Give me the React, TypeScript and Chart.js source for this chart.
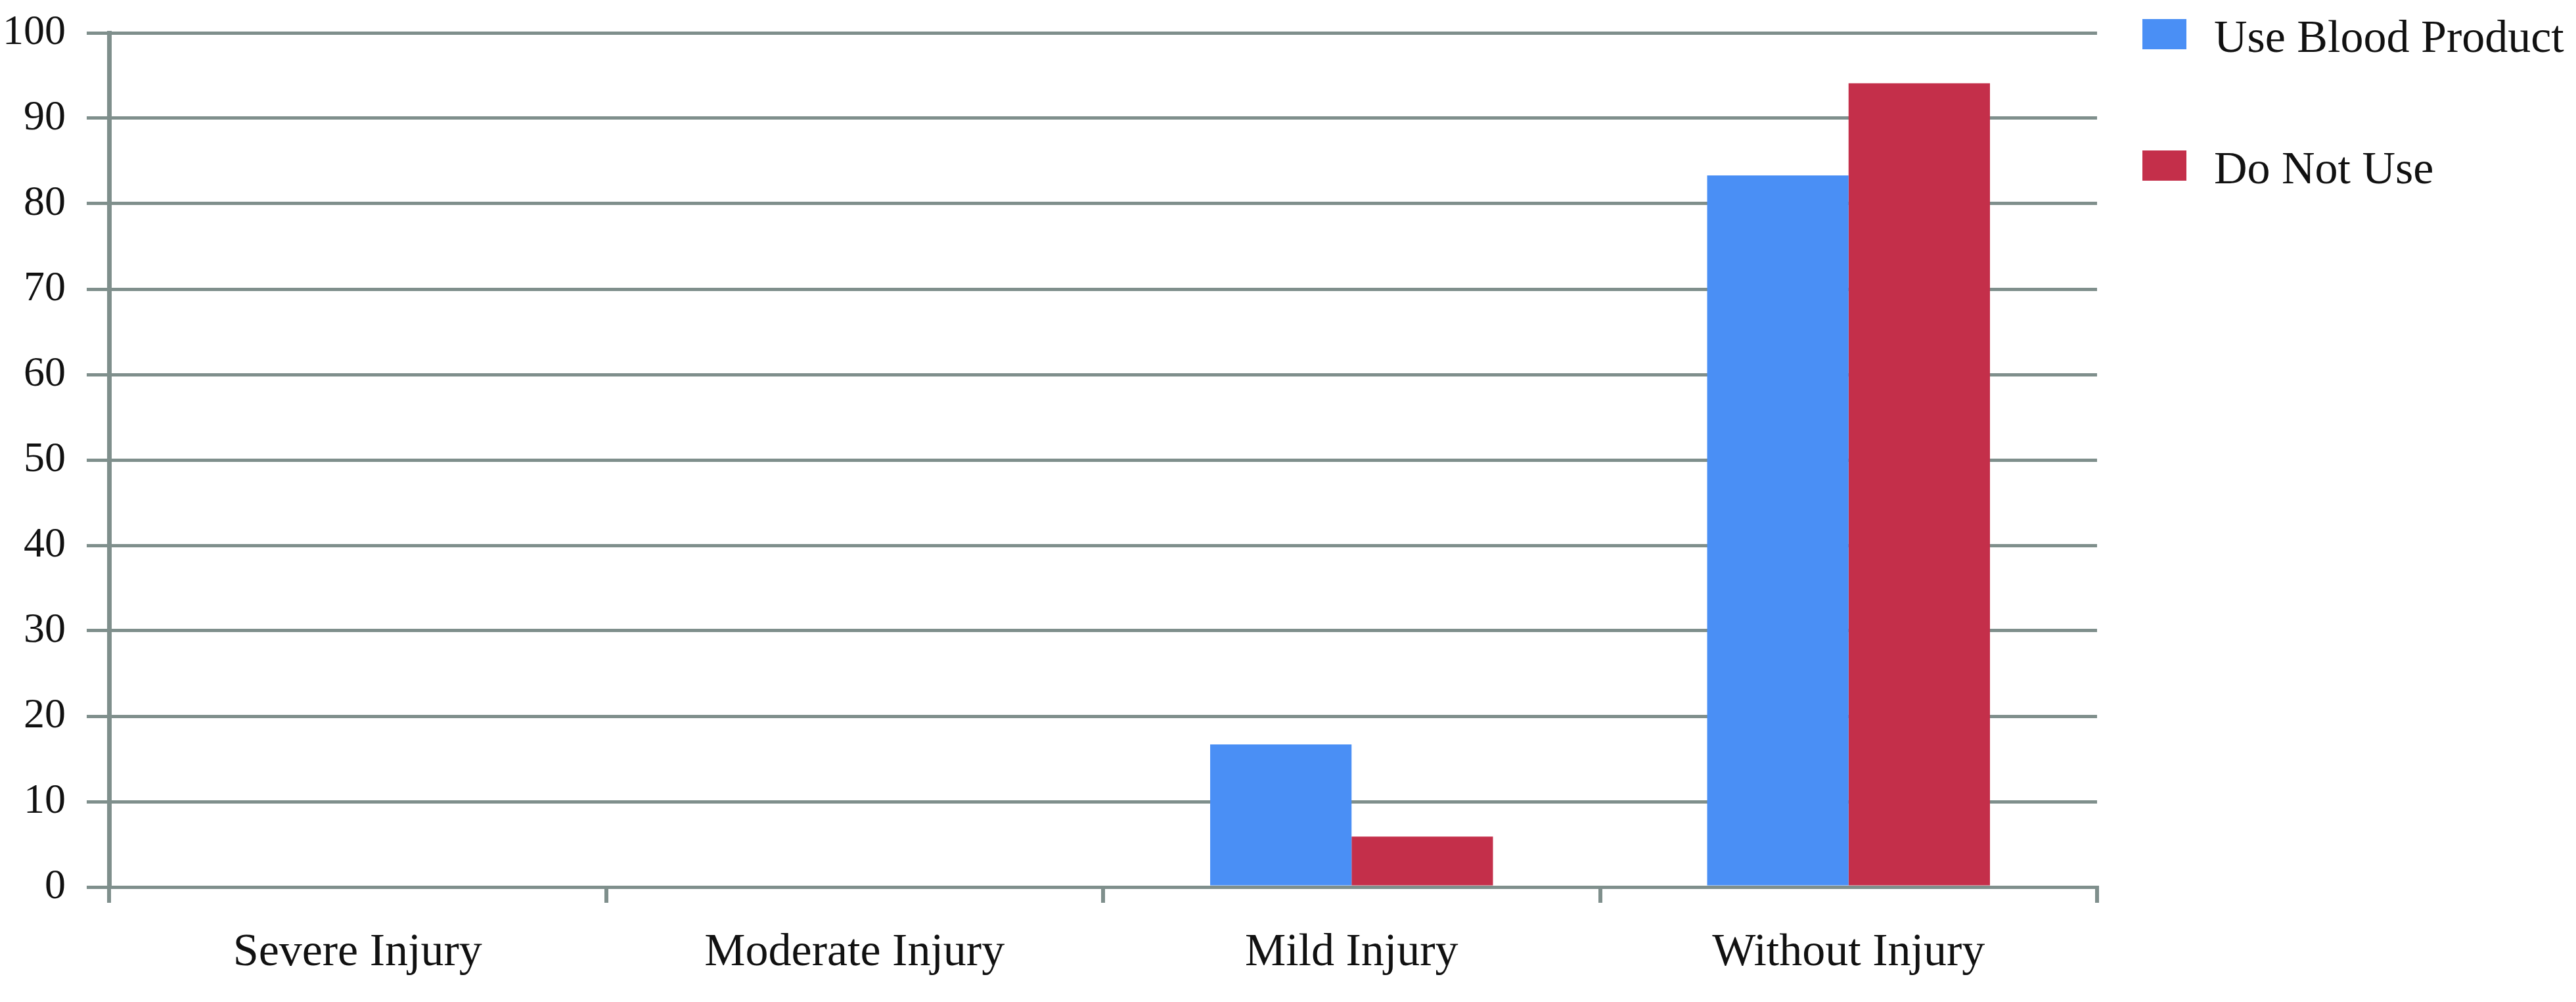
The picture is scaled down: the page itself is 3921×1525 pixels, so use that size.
import React, { useEffect, useRef } from "react";
import { Chart, registerables } from "chart.js";

Chart.register(...registerables);

const categories = ["Severe Injury", "Moderate Injury", "Mild Injury", "Without Injury"];
const seriesLabels = ["Use Blood Product", "Do Not Use"];
const useBloodProduct = [0, 0, 16.7, 83.3];
const doNotUse = [0, 0, 5.9, 94.1];
const yMin = 0;
const yMax = 100;
const yStep = 10;

const BLUE = "#4a8ff5";
const RED = "#c42f4a";
const GRID = "#7f8f8c";
const TEXT = "#111111";
const FONT = "'Liberation Serif', 'Times New Roman', serif";

const sideLegend = {
  id: "sideLegend",
  afterDraw(chart: any) {
    const ctx = chart.ctx;
    const left = chart.chartArea.right + 69;
    ctx.save();
    chart.data.datasets.forEach((ds: any, i: number) => {
      const top = 29 + i * 200;
      ctx.fillStyle = ds.backgroundColor;
      ctx.fillRect(left, top, 67, 46);
      ctx.fillStyle = TEXT;
      ctx.font = `70px ${FONT}`;
      ctx.textAlign = "left";
      ctx.textBaseline = "alphabetic";
      ctx.fillText(ds.label, left + 109, top + 50);
    });
    ctx.restore();
  },
};

export default function App() {
  const ref = useRef<HTMLCanvasElement | null>(null);

  useEffect(() => {
    document.body.style.margin = "0";
    document.body.style.overflow = "hidden";
    const canvas = ref.current;
    if (!canvas) return;
    const chart = new Chart(canvas, {
      type: "bar",
      data: {
        labels: categories,
        datasets: [
          {
            label: seriesLabels[0],
            data: useBloodProduct,
            backgroundColor: BLUE,
            borderWidth: 0,
            categoryPercentage: 0.569,
            barPercentage: 1,
          },
          {
            label: seriesLabels[1],
            data: doNotUse,
            backgroundColor: RED,
            borderWidth: 0,
            categoryPercentage: 0.569,
            barPercentage: 1,
          },
        ],
      },
      options: {
        responsive: false,
        animation: false,
        devicePixelRatio: 1,
        layout: { padding: { top: 50, right: 729, left: 0, bottom: 0 } },
        plugins: {
          legend: { display: false },
          tooltip: { enabled: false },
        },
        scales: {
          x: {
            z: 1,
            offset: true,
            grid: {
              offset: true,
              drawOnChartArea: false,
              drawTicks: true,
              tickLength: 24,
              lineWidth: 6,
              color: GRID,
            },
            border: { display: true, color: GRID, width: 5 },
            ticks: {
              color: TEXT,
              font: { family: FONT, size: 70 },
              padding: 35,
              maxRotation: 0,
              autoSkip: false,
            },
            afterFit(scale: any) {
              scale.height = 175;
              scale.paddingLeft = 0;
              scale.paddingRight = 0;
            },
          },
          y: {
            min: yMin,
            max: yMax,
            grid: {
              color: GRID,
              lineWidth: 5,
              tickLength: 34,
              drawTicks: true,
            },
            border: { display: true, color: GRID, width: 7 },
            ticks: {
              stepSize: yStep,
              color: TEXT,
              font: { family: FONT, size: 64 },
              padding: 32,
            },
            afterFit(scale: any) {
              scale.width = 166;
              scale.paddingTop = 0;
              scale.paddingBottom = 0;
            },
          },
        },
      },
      plugins: [sideLegend],
    });
    return () => chart.destroy();
  }, []);

  return (
    <canvas
      ref={ref}
      width={3921}
      height={1525}
      style={{ display: "block", width: "3921px", height: "1525px" }}
    />
  );
}
